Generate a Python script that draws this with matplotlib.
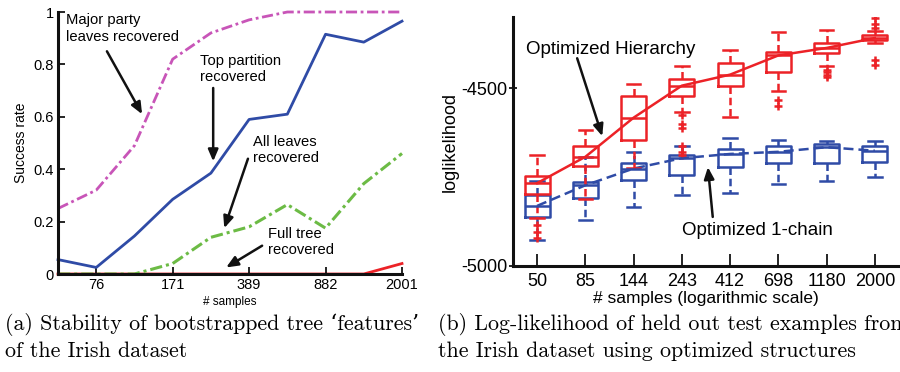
import numpy as np
import matplotlib.pyplot as plt

plt.rcParams['font.family'] = ['Liberation Sans', 'DejaVu Sans']

# (a) success rate of recovered tree features vs. number of bootstrap samples
n_boot = [50, 76, 114, 171, 258, 389, 585, 882, 1329, 2001]
boot_ticks = [76, 171, 389, 882, 2001]
major_party = [0.25, 0.32, 0.49, 0.82, 0.92, 0.97, 1.0, 1.0, 1.0, 1.0]
top_partition = [0.055, 0.025, 0.145, 0.285, 0.385, 0.59, 0.61, 0.915, 0.885, 0.965]
all_leaves = [0, 0, 0, 0.04, 0.14, 0.18, 0.265, 0.175, 0.345, 0.46]
full_tree = [0, 0, 0, 0, 0, 0, 0, 0, 0, 0.04]

# (b) held-out log-likelihood box statistics
n_test = [50, 85, 144, 243, 412, 698, 1180, 2000]

hier_q1 = [-4798, -4719, -4646, -4521, -4493, -4456, -4401, -4364]
hier_med = [-4767, -4693, -4583, -4493, -4462, -4408, -4387, -4359]
hier_q3 = [-4747, -4662, -4521, -4474, -4430, -4399, -4373, -4352]
hier_lo = [-4865, -4813, -4725, -4566, -4582, -4507, -4439, -4373]
hier_hi = [-4688, -4619, -4488, -4437, -4394, -4342, -4336, -4340]
hier_out = [[-4885, -4904, -4921], [], [],
            [-4575, -4601, -4613, -4664, -4679, -4688], [],
            [-4533, -4550], [-4448, -4455, -4462, -4469],
            [-4303, -4319, -4331, -4420, -4434]]

chain_q1 = [-4862, -4808, -4758, -4744, -4721, -4711, -4711, -4709]
chain_med = [-4831, -4773, -4726, -4697, -4685, -4679, -4666, -4676]
chain_q3 = [-4801, -4763, -4710, -4688, -4672, -4662, -4657, -4662]
chain_lo = [-4927, -4871, -4834, -4801, -4796, -4770, -4760, -4751]
chain_hi = [-4760, -4693, -4679, -4664, -4639, -4646, -4650, -4650]
chain_out = [[] for _ in n_test]

RED = '#ec2227'
BLUE = '#2f4ba6'
MAGENTA = '#c855b8'
GREEN = '#6cbb45'


def box_stats(q1, med, q3, lo, hi, out):
    stats = []
    for i in range(len(q1)):
        stats.append({'q1': q1[i], 'med': med[i], 'q3': q3[i],
                      'whislo': lo[i], 'whishi': hi[i], 'fliers': out[i]})
    return stats


def style_axes(ax):
    for side in ['top', 'right']:
        ax.spines[side].set_visible(False)
    for side in ['left', 'bottom']:
        ax.spines[side].set_linewidth(2.2)
        ax.spines[side].set_color('#111111')


fig = plt.figure(figsize=(9, 3.72), dpi=100)

# ---------------- (a) ----------------
axa = fig.add_axes([58 / 900, 1 - 274 / 372, 344 / 900, 262 / 372])
xa = np.arange(len(n_boot))
dashdot = (0, (4, 1.3, 1, 1.3))
axa.plot(xa, major_party, color=MAGENTA, lw=2, linestyle=dashdot, clip_on=False)
axa.plot(xa, top_partition, color=BLUE, lw=2, clip_on=False)
axa.plot(xa, all_leaves, color=GREEN, lw=2.2, linestyle=dashdot, clip_on=False)
axa.plot(xa, full_tree, color=RED, lw=2, clip_on=False, zorder=1)

axa.set_xlim(0, len(n_boot) - 1)
axa.set_ylim(0, 1)
axa.set_xticks([n_boot.index(n) for n in boot_ticks])
axa.set_xticklabels([str(n) for n in boot_ticks])
axa.set_yticks([0, 0.2, 0.4, 0.6, 0.8, 1])
axa.set_yticklabels(['0', '0.2', '0.4', '0.6', '0.8', '1'])
axa.tick_params(direction='in', length=5, width=1.2, labelsize=10.5, pad=3)
style_axes(axa)
axa.set_ylabel('Success rate', fontsize=10, labelpad=4)
axa.set_xlabel('# samples', fontsize=8.5, labelpad=3)

arrow = dict(arrowstyle='-|>,head_length=0.7,head_width=0.3', color='#111111', lw=1.8,
             shrinkA=0, shrinkB=0)
note = dict(fontsize=10.6, va='top', linespacing=1.2)
axa.text(0.21, 0.995, 'Major party\nleaves recovered', **note)
axa.annotate('', xy=(2.2, 0.61), xytext=(1.28, 0.85), arrowprops=arrow)
axa.text(3.72, 0.84, 'Top partition\nrecovered', **note)
axa.annotate('', xy=(4.06, 0.43), xytext=(4.06, 0.71), arrowprops=arrow)
axa.text(5.1, 0.53, 'All leaves\nrecovered', **note)
axa.annotate('', xy=(4.35, 0.175), xytext=(4.97, 0.44), arrowprops=arrow)
axa.text(5.5, 0.18, 'Full tree\nrecovered', **note)
axa.annotate('', xy=(4.4, 0.025), xytext=(5.34, 0.108), arrowprops=arrow)

# ---------------- (b) ----------------
axb = fig.add_axes([513 / 900, 1 - 266 / 372, 385 / 900, 249 / 372])
xb = np.arange(1, len(n_test) + 1)


def draw_boxes(stats, color):
    axb.bxp(stats, positions=xb, widths=0.52, showfliers=True,
            boxprops=dict(color=color, lw=1.8),
            medianprops=dict(color=color, lw=1.8),
            whiskerprops=dict(color=color, lw=1.8, linestyle=(0, (3, 1.5))),
            capprops=dict(color=color, lw=1.8),
            flierprops=dict(marker='+', markeredgecolor=color, markersize=6,
                            markeredgewidth=1.8),
            capwidths=0.28, manage_ticks=False)


draw_boxes(box_stats(chain_q1, chain_med, chain_q3, chain_lo, chain_hi, chain_out), BLUE)
axb.plot(xb, chain_med, color=BLUE, lw=1.8, linestyle=(0, (4, 2)))
draw_boxes(box_stats(hier_q1, hier_med, hier_q3, hier_lo, hier_hi, hier_out), RED)
axb.plot(xb, hier_med, color=RED, lw=1.8)

axb.set_xlim(0.5, len(n_test) + 0.48)
axb.set_ylim(-5000, -4300)
axb.set_xticks(xb)
axb.set_xticklabels([str(n) for n in n_test])
axb.set_yticks([-5000, -4500])
axb.set_yticklabels(['-5000', '-4500'])
axb.tick_params(axis='x', direction='in', length=9, width=1.2, labelsize=13, pad=5)
axb.tick_params(axis='y', direction='inout', length=6, width=1.2, labelsize=13, pad=1)
style_axes(axb)
axb.set_ylabel('loglikelihood', fontsize=13, labelpad=2)
axb.set_xlabel('# samples (logarithmic scale)', fontsize=12.5, labelpad=1)

axb.text(0.77, -4390, 'Optimized Hierarchy', fontsize=13.5, va='center')
axb.annotate('', xy=(2.35, -4635), xytext=(1.83, -4416), arrowprops=arrow)
axb.text(4.0, -4899, 'Optimized 1-chain', fontsize=13.5, va='center')
axb.annotate('', xy=(4.54, -4722), xytext=(4.64, -4862), arrowprops=arrow)

# captions
cap = dict(family=['cmr10', 'DejaVu Serif'], fontsize=15.8, va='center')
fig.text(5 / 900, 1 - 324 / 372, '(a) Stability of bootstrapped tree \u2018features\u2019', **cap)
fig.text(5 / 900, 1 - 351 / 372, 'of the Irish dataset', **cap)
fig.text(438 / 900, 1 - 324 / 372, '(b) Log-likelihood of held out test examples from', **cap)
fig.text(438 / 900, 1 - 351 / 372, 'the Irish dataset using optimized structures', **cap)

fig.savefig('out.png', dpi=100)
